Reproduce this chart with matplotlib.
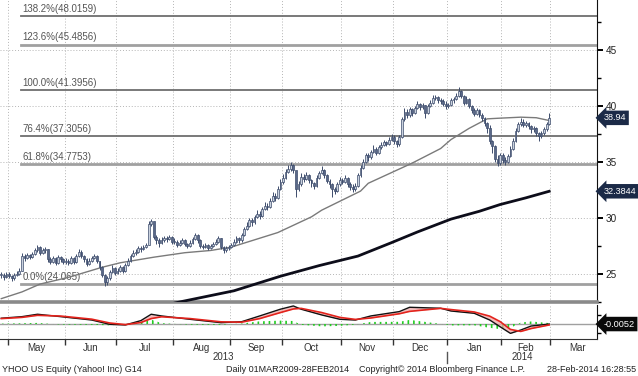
import numpy as np
import pandas as pd
import matplotlib
matplotlib.use('Agg')
import matplotlib.pyplot as plt
import matplotlib.transforms as mtransforms

plt.rcParams['font.family'] = ['Liberation Sans', 'DejaVu Sans']
plt.rcParams['hatch.linewidth'] = 1.2

# trading calendar (NYSE holidays dropped)
holidays = ['2013-05-27', '2013-07-04', '2013-09-02', '2013-11-28',
            '2013-12-25', '2014-01-01', '2014-01-20', '2014-02-17']
days = pd.bdate_range('2013-04-26', '2014-03-31', freq='C', holidays=holidays)

# daily closes, 26 Apr 2013 - 28 Feb 2014
close = [
    24.9, 24.7, 25.0,
    24.8, 24.6, 24.9, 25.0, 25.3, 26.6, 26.4, 26.7, 26.5, 26.8, 27.1, 27.4, 26.9, 27.1, 27.2, 26.3, 26.1, 26.4, 26.0, 26.5, 26.3, 26.1,
    26.2, 26.0, 26.4, 26.1, 26.6, 27.0, 26.6, 26.3, 25.9, 26.2, 26.4, 26.6, 26.2, 25.6, 24.9, 24.3, 24.6, 25.2, 25.5, 25.1,
    25.3, 25.6, 25.3, 25.8, 26.2, 26.6, 26.9, 27.0, 27.3, 27.2, 27.4, 27.6, 29.5, 29.7, 28.3, 28.0, 27.8, 28.0, 28.2, 28.1, 28.3, 27.9,
    27.9, 27.6, 27.8, 28.0, 27.7, 27.5, 27.8, 28.1, 28.5, 28.0, 27.5, 27.4, 27.6, 27.3, 27.5, 27.7, 27.9, 28.2, 27.4, 27.1, 27.3, 27.4,
    27.6, 27.9, 28.2, 28.0, 28.5, 29.0, 29.3, 29.8, 29.6, 30.1, 30.4, 30.2, 30.8, 31.1, 31.0, 31.5, 32.0, 31.8, 32.6, 33.2,
    33.6, 34.1, 34.4, 34.7, 34.3, 32.6, 33.0, 33.7, 33.5, 33.8, 33.4, 33.1, 32.9, 33.6, 34.0, 34.3, 33.8, 33.3, 33.0, 32.6, 32.4, 33.0, 33.4,
    33.2, 33.6, 33.0, 32.8, 32.6, 32.9, 33.8, 34.5, 35.0, 35.6, 35.4, 35.9, 36.2, 35.8, 36.3, 36.5, 36.8, 36.6, 37.0, 37.2,
    36.9, 36.6, 37.2, 38.8, 39.5, 39.2, 39.7, 39.4, 39.8, 40.2, 39.9, 40.1, 39.4, 40.0, 40.3, 40.7, 40.8, 40.5, 40.4, 40.2, 40.0,
    40.1, 40.5, 40.6, 40.9, 41.3, 40.9, 40.3, 40.6, 40.0, 39.6, 39.3, 39.6, 39.2, 38.9, 38.5, 38.0, 36.9, 36.4, 35.3, 34.9, 35.6,
    35.2, 35.0, 35.5, 36.2, 36.9, 37.8, 38.4, 38.6, 38.3, 38.5, 38.2, 37.9, 38.0, 37.6, 37.3, 37.6, 37.9, 38.4, 38.94,
]
high = [
    25.2, 25.1, 25.2,
    25.2, 24.9, 25.1, 25.3, 25.5, 26.9, 26.8, 26.9, 26.8, 27.0, 27.3, 27.6, 27.5, 27.3, 27.4, 27.2, 26.5, 26.6, 26.5, 26.7, 26.6, 26.4,
    26.4, 26.3, 26.6, 26.5, 26.8, 27.2, 27.1, 26.7, 26.4, 26.4, 26.6, 26.8, 26.7, 26.2, 25.7, 25.0, 24.8, 25.4, 25.8, 25.6,
    25.5, 25.8, 25.7, 26.0, 26.4, 26.8, 27.1, 27.2, 27.5, 27.5, 27.6, 27.8, 29.7, 29.9, 29.0, 28.5, 28.2, 28.3, 28.4, 28.4, 28.5, 28.4,
    28.2, 28.0, 28.0, 28.2, 28.1, 27.8, 28.0, 28.3, 28.7, 28.6, 28.1, 27.7, 27.8, 27.7, 27.7, 27.9, 28.1, 28.4, 28.2, 27.5, 27.5, 27.6,
    27.8, 28.1, 28.4, 28.3, 28.7, 29.2, 29.6, 30.0, 30.0, 30.3, 30.7, 30.6, 31.0, 31.4, 31.3, 31.8, 32.3, 32.2, 32.9, 33.5,
    33.9, 34.4, 34.7, 35.0, 34.8, 34.1, 33.3, 34.0, 33.9, 34.1, 33.9, 33.5, 33.2, 33.8, 34.2, 34.6, 34.4, 33.9, 33.5, 33.1, 32.8, 33.2, 33.7,
    33.6, 33.8, 33.7, 33.2, 33.0, 33.1, 34.0, 34.7, 35.3, 35.8, 35.8, 36.1, 36.5, 36.3, 36.5, 36.8, 37.0, 36.9, 37.2, 37.5,
    37.4, 37.0, 37.4, 39.0, 39.8, 39.7, 39.9, 39.8, 40.0, 40.4, 40.3, 40.3, 40.1, 40.2, 40.5, 41.0, 41.0, 40.9, 40.7, 40.6, 40.4,
    40.3, 40.7, 40.8, 41.2, 41.7, 41.4, 41.0, 40.9, 40.7, 40.1, 39.8, 39.8, 39.7, 39.4, 39.0, 38.6, 38.3, 37.0, 36.5, 35.6, 35.8,
    35.8, 35.4, 35.7, 36.4, 37.1, 38.0, 38.6, 38.9, 38.8, 38.7, 38.6, 38.3, 38.2, 38.1, 37.7, 37.8, 38.1, 38.6, 39.4,
]
low = [
    24.6, 24.5, 24.6,
    24.6, 24.4, 24.5, 24.8, 24.9, 25.3, 26.2, 26.3, 26.3, 26.4, 26.7, 27.0, 26.7, 26.8, 26.9, 26.1, 25.9, 26.0, 25.8, 25.9, 26.1, 25.9,
    25.9, 25.8, 25.9, 25.9, 26.0, 26.5, 26.4, 26.1, 25.7, 25.8, 26.1, 26.3, 26.0, 25.4, 24.7, 23.9, 24.0, 24.5, 25.1, 24.9,
    25.0, 25.2, 25.1, 25.2, 25.7, 26.1, 26.5, 26.7, 26.9, 27.0, 27.1, 27.3, 27.6, 29.3, 28.1, 27.7, 27.4, 27.7, 27.9, 27.9, 28.0, 27.7,
    27.7, 27.4, 27.5, 27.7, 27.5, 27.3, 27.4, 27.7, 28.0, 27.8, 27.3, 27.2, 27.3, 27.1, 27.2, 27.4, 27.6, 27.8, 27.2, 26.9, 27.0, 27.1,
    27.3, 27.5, 27.8, 27.8, 27.9, 28.4, 28.9, 29.2, 29.3, 29.5, 30.0, 29.9, 30.1, 30.7, 30.7, 30.9, 31.4, 31.5, 31.7, 32.5,
    33.0, 33.5, 34.0, 34.2, 34.0, 31.9, 32.4, 32.9, 33.2, 33.4, 33.1, 32.8, 32.6, 32.8, 33.5, 33.9, 33.6, 33.1, 32.7, 31.9, 32.1, 32.3, 32.9,
    33.0, 33.1, 32.8, 32.5, 32.3, 32.4, 32.8, 33.7, 34.4, 34.9, 35.1, 35.3, 35.8, 35.6, 35.7, 36.2, 36.4, 36.4, 36.5, 36.9,
    36.6, 36.3, 36.4, 37.1, 38.7, 38.9, 39.0, 39.1, 39.3, 39.7, 39.6, 39.7, 38.9, 39.3, 39.9, 40.2, 40.5, 40.3, 40.2, 40.0, 39.7,
    39.8, 40.0, 40.3, 40.5, 40.8, 40.7, 40.1, 40.2, 39.8, 39.4, 39.1, 39.2, 39.0, 38.7, 38.2, 37.6, 36.6, 35.8, 35.0, 34.6, 34.7,
    34.9, 34.7, 34.9, 35.4, 36.1, 36.8, 37.7, 38.2, 38.1, 38.1, 37.9, 37.6, 37.7, 37.3, 36.9, 37.1, 37.4, 37.8, 38.3,
]

# moving averages (trading-day index, value)
ma50_day = [0, 8, 15, 26, 39, 46, 59, 71, 81, 89, 107, 120, 124, 139, 142, 159, 170, 174, 181, 188, 192, 201, 207, 212]
ma50_val = [22.8, 23.4, 24.1, 24.7, 25.6, 26.0, 26.5, 26.9, 27.1, 27.4, 28.7, 30.1, 30.7, 32.4, 33.1, 34.9,
            36.2, 37.0, 38.0, 38.85, 38.9, 39.0, 38.95, 38.7]
ma200_day = [67, 70, 90, 108, 123, 138, 151, 161, 174, 185, 193, 203, 212]
ma200_val = [22.4, 22.55, 23.5, 24.8, 25.75, 26.6, 27.8, 28.75, 29.9, 30.6, 31.2, 31.8, 32.3844]

# MACD panel
macd_day = [0, 8, 14, 23, 35, 42, 48, 54, 58, 62, 73, 85, 93, 100, 108, 113, 116, 124, 131, 137, 143,
            154, 158, 170, 174, 183, 189, 193, 197, 201, 205, 212]
macd_val = [0.48, 0.61, 0.81, 0.61, 0.33, -0.03, -0.08, 0.28, 0.81, 0.67, 0.39, 0.11, 0.19, 0.67, 1.23, 1.50,
            1.23, 0.75, 0.39, 0.33, 0.67, 1.03, 1.39, 1.31, 1.08, 0.89, 0.33, -0.23, -0.78, -0.50, -0.17, -0.0052]
signal_val = [0.45, 0.55, 0.72, 0.66, 0.40, 0.08, -0.05, 0.12, 0.45, 0.60, 0.45, 0.18, 0.15, 0.45, 0.95, 1.25,
              1.30, 0.95, 0.55, 0.38, 0.50, 0.85, 1.05, 1.30, 1.20, 1.00, 0.65, 0.20, -0.45, -0.62, -0.38, -0.08]

fib_pct = ['138.2%', '123.6%', '100.0%', '76.4%', '61.8%', '0.0%']
fib_val = [48.0159, 45.4856, 41.3956, 37.3056, 34.7753, 24.065]
fib_light = [False, True, False, False, True, True]

footer = ['YHOO US Equity (Yahoo! Inc) G14', 'Daily 01MAR2009-28FEB2014',
          'Copyright\u00a9 2014 Bloomberg Finance L.P.', '28-Feb-2014 16:28:55']

close = np.array(close)
high = np.array(high)
low = np.array(low)
n = len(close)
idx = np.arange(n)
opens = np.r_[close[0], close[:-1]]   # opens taken as prior close

x_max = 230.5
fig = plt.figure(figsize=(6.38, 3.76), dpi=100)
ax = fig.add_axes([0, (376 - 302) / 376, 597 / 638, 302 / 376])
ax2 = fig.add_axes([0, (376 - 339) / 376, 597 / 638, 34 / 376])

# month boundaries from the calendar
months = pd.Series(days.to_period('M'))
starts = [i for i in range(len(days)) if i == 0 or months[i] != months[i - 1]]
bounds = [s - 0.5 for s in starts[1:]]
centers = []
labels = []
for k, s in enumerate(starts[1:]):
    e = starts[k + 2] - 1 if k + 2 < len(starts) else len(days) - 1
    centers.append((s + e) / 2)
    labels.append(days[s].strftime('%b'))

# --- price panel
ax.set_xlim(-0.5, x_max)
ax.set_ylim(22.5, 49.46)
ax.set_xticks(bounds)
ax.tick_params(axis='x', length=0, labelbottom=False)
ax.grid(True, which='major', ls=(0, (1, 2)), color='#b5b5b5', lw=0.7)
ax.set_axisbelow(True)

for v, p, lt in zip(fib_val, fib_pct, fib_light):
    ax.axhline(v, xmin=21 / 597, xmax=1, color='#a0a0a0' if lt else '#6e6e6e',
               lw=2.0 if lt else 1.3, zorder=2)
    ax.text(8.1, v + 0.2, f'{p}({v:g})' if p != '0.0%' else f'{p}({v})',
            fontsize=7, color='#555555', va='bottom', ha='left', zorder=3)

ax.plot(ma200_day, ma200_val, color='#0d0d1a', lw=2.0, zorder=3)
ax.plot(ma50_day, ma50_val, color='#7a7a7a', lw=1.0, zorder=3)

up = close >= opens
ax.vlines(idx, low, high, color='#3d4c6c', lw=0.7, zorder=4)
body_lo = np.minimum(opens, close)
body_h = np.maximum(np.abs(close - opens), 0.06)
ax.bar(idx[up], body_h[up], bottom=body_lo[up], width=0.7, color='#c9d1de',
       edgecolor='#3d4c6c', lw=0.5, zorder=5)
ax.bar(idx[~up], body_h[~up], bottom=body_lo[~up], width=0.7, color='#5a6888',
       edgecolor='#3d4c6c', lw=0.5, zorder=5)

ax.yaxis.tick_right()
ax.set_yticks([25, 30, 35, 40, 45])
ax.set_yticks([22.5, 27.5, 32.5, 37.5, 42.5, 47.5], minor=True)
ax.tick_params(axis='y', which='major', direction='out', length=4, width=1.4,
               pad=2, labelsize=7.2, labelcolor='#222222')
ax.tick_params(axis='y', which='minor', direction='out', length=3, width=1)
ax.grid(False, which='minor')
for s in ['left', 'top']:
    ax.spines[s].set_visible(False)
ax.spines['right'].set_color('#111111')
ax.spines['bottom'].set_color('#8a8a8a')
ax.spines['bottom'].set_linewidth(2.6)

tr = mtransforms.blended_transform_factory(ax.transAxes, ax.transData)
for v, txt in [(38.94, '38.94'), (32.3844, '32.3844')]:
    ax.text(1.011, v, txt, transform=tr, fontsize=6.6, color='white', va='center',
            ha='left', clip_on=False,
            bbox=dict(boxstyle='larrow,pad=0.3', fc='#1b2a47', ec='none'))

# --- MACD panel
ax2.set_xlim(-0.5, x_max)
ax2.set_ylim(-1.25, 1.58)
ax2.set_xticks(bounds)
ax2.set_xticklabels([])
ax2.set_xticks(centers, minor=True)
ax2.set_xticklabels(labels, minor=True, fontsize=7, color='#333333')
ax2.tick_params(axis='x', which='major', direction='out', length=4, width=1, color='#333333')
ax2.tick_params(axis='x', which='minor', length=0, pad=3)
ax2.grid(True, axis='x', which='major', ls=(0, (1, 2)), color='#b5b5b5', lw=0.7)
ax2.axhline(0, color='#a0a0a0', lw=1.0, zorder=1)

hist = np.array(macd_val) - np.array(signal_val)
ax2.fill_between(macd_day, 0, hist, facecolor='none', edgecolor='#22cc22',
                 hatch='|||', lw=0, zorder=2)
ax2.fill_between(macd_day, macd_val, signal_val, color='#f2a3a3', alpha=0.7, lw=0, zorder=2)
ax2.plot(macd_day, macd_val, color='#111111', lw=1.0, zorder=3)
ax2.plot(macd_day, signal_val, color='#e3231c', lw=1.2, zorder=3)

ax2.yaxis.tick_right()
ax2.set_yticks([-0.75, 0.75])
ax2.set_yticklabels([])
ax2.tick_params(axis='y', direction='out', length=3, width=1)
for s in ['left', 'top']:
    ax2.spines[s].set_visible(False)
ax2.spines['right'].set_color('#111111')
ax2.spines['bottom'].set_color('#333333')

tr2 = mtransforms.blended_transform_factory(ax2.transAxes, ax2.transData)
ax2.text(1.011, -0.0052, '-0.0052', transform=tr2, fontsize=6.6, color='white',
         va='center', ha='left', clip_on=False,
         bbox=dict(boxstyle='larrow,pad=0.3', fc='#0a0a0a', ec='none'))

# year labels and separator
trx = mtransforms.blended_transform_factory(ax2.transData, ax2.transAxes)
ax2.text(86, -0.53, '2013', transform=trx, fontsize=7, color='#333333',
         ha='center', va='center', clip_on=False)
ax2.text(201.5, -0.53, '2014', transform=trx, fontsize=7, color='#333333',
         ha='center', va='center', clip_on=False)
yr = days.year
year_bound = [i - 0.5 for i in range(1, len(days)) if yr[i] != yr[i - 1]]
for b in year_bound:
    ax2.plot([b, b], [-0.38, -0.7], color='#555555', lw=1, transform=trx, clip_on=False)

# footer
fy = (376 - 370) / 376
fig.text(2 / 638, fy, footer[0], fontsize=6.5, color='#222222', va='center', ha='left')
fig.text(226 / 638, fy, footer[1], fontsize=6.5, color='#222222', va='center', ha='left')
fig.text(359 / 638, fy, footer[2], fontsize=6.5, color='#222222', va='center', ha='left')
fig.text(636 / 638, fy, footer[3], fontsize=6.5, color='#222222', va='center', ha='right')

fig.savefig('out.png', dpi=100)
